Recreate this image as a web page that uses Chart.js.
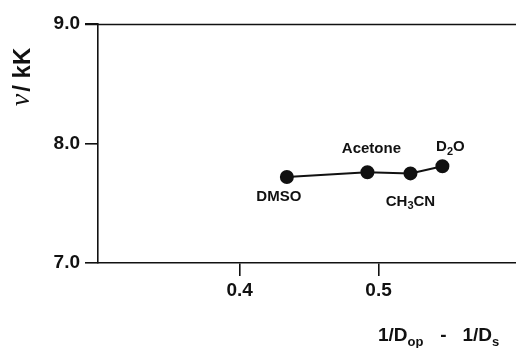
<!DOCTYPE html>
<html>
<head>
<meta charset="utf-8">
<script src="https://cdn.jsdelivr.net/npm/chart.js@4.4.1/dist/chart.umd.min.js"></script>
<style>
  html, body { margin: 0; padding: 0; background: #fff; }
  #wrap { width: 516px; height: 348px; }
</style>
</head>
<body>
<div id="wrap"><canvas id="chart" width="516" height="348"></canvas></div>
<script>
// ===== DATA =====
const solvents = ['DMSO', 'Acetone', 'CH3CN', 'D2O'];
const xValues = [0.434, 0.492, 0.523, 0.546];   // 1/Dop - 1/Ds
const yValues = [7.72, 7.76, 7.75, 7.81];       // nu / kK
const xTicks = [0.4, 0.5];
const yTicks = [7.0, 8.0, 9.0];

// label pieces (text + subscript flag) and where they sit around each point
const labelParts = [
  [['DMSO', 0]],
  [['Acetone', 0]],
  [['CH', 0], ['3', 1], ['CN', 0]],
  [['D', 0], ['2', 1], ['O', 0]]
];
const labelOffsets = [[-8, 20], [4, -23], [0, 28], [8, -19]];

const FONT = '"Liberation Sans", Arial, sans-serif';

// draw a run of text with subscripts, centred on x
function drawRich(ctx, parts, x, y, size) {
  const subSize = Math.round(size * 0.7);
  let total = 0;
  parts.forEach(p => {
    ctx.font = 'bold ' + (p[1] ? subSize : size) + 'px ' + FONT;
    total += ctx.measureText(p[0]).width;
  });
  let cx = x - total / 2;
  ctx.textAlign = 'left';
  ctx.textBaseline = 'middle';
  parts.forEach(p => {
    ctx.font = 'bold ' + (p[1] ? subSize : size) + 'px ' + FONT;
    ctx.fillText(p[0], cx, p[1] ? y + size * 0.32 : y);
    cx += ctx.measureText(p[0]).width;
  });
}

const extras = {
  id: 'extras',
  afterDraw(chart) {
    const ctx = chart.ctx;
    const xs = chart.scales.x, ys = chart.scales.y;
    ctx.save();
    ctx.fillStyle = '#111';
    ctx.strokeStyle = '#111';

    // top frame line (runs out to the tick side)
    ctx.lineWidth = 1.6;
    const yt = Math.round(ys.getPixelForValue(yTicks[yTicks.length - 1])) + 0.5;
    ctx.beginPath();
    ctx.moveTo(85, yt);
    ctx.lineTo(chart.width, yt);
    ctx.stroke();

    // point labels
    solvents.forEach((s, i) => {
      const px = xs.getPixelForValue(xValues[i]) + labelOffsets[i][0];
      const py = ys.getPixelForValue(yValues[i]) + labelOffsets[i][1];
      drawRich(ctx, labelParts[i], px, py, 15);
    });

    // x title: 1/Dop - 1/Ds
    ctx.textBaseline = 'middle';
    ctx.textAlign = 'left';
    let tx = 378;
    const ty = 336;
    const pieces = [['1/D', 0], ['op', 1], ['   -   ', 0], ['1/D', 0], ['s', 1]];
    pieces.forEach(p => {
      ctx.font = 'bold ' + (p[1] ? 13 : 19) + 'px ' + FONT;
      ctx.fillText(p[0], tx, p[1] ? ty + 6 : ty);
      tx += ctx.measureText(p[0]).width + (p[1] ? 1 : 0);
    });

    // y title: nu/ kK rotated
    ctx.translate(22, 77);
    ctx.rotate(-Math.PI / 2);
    const nuFont = 'italic 28px "Liberation Serif", "DejaVu Serif", serif';
    const restFont = 'bold 24px ' + FONT;
    ctx.font = nuFont;
    const wNu = ctx.measureText('\u03BD').width;
    ctx.font = restFont;
    const wRest = ctx.measureText('/ kK').width;
    let rx = -(wNu + wRest + 2) / 2;
    ctx.font = nuFont;
    ctx.fillText('\u03BD', rx, 0);
    rx += wNu + 2;
    ctx.font = restFont;
    ctx.fillText('/ kK', rx, 1);
    ctx.restore();
  }
};

new Chart(document.getElementById('chart'), {
  type: 'scatter',
  data: {
    datasets: [{
      data: xValues.map((x, i) => ({ x: x, y: yValues[i] })),
      showLine: true,
      borderColor: '#111',
      borderWidth: 2,
      backgroundColor: '#111',
      pointRadius: 6,
      pointHoverRadius: 6
    }]
  },
  options: {
    responsive: false,
    animation: false,
    layout: { autoPadding: false, padding: { top: 24, right: 0, left: 0, bottom: 0 } },
    plugins: { legend: { display: false }, tooltip: { enabled: false } },
    scales: {
      x: {
        type: 'linear', min: 0.298, max: 0.599,
        afterBuildTicks: s => { s.ticks = xTicks.map(v => ({ value: v })); },
        afterFit: s => { s.height = 85; s.paddingLeft = 0; s.paddingRight = 0; },
        border: { color: '#111', width: 1.6 },
        grid: { drawOnChartArea: false, drawTicks: true, tickLength: 13, color: '#111', lineWidth: 1.6 },
        ticks: { color: '#111', font: { family: FONT, size: 19, weight: 'bold' }, padding: 3, maxRotation: 0,
                 callback: v => v.toFixed(1) }
      },
      y: {
        type: 'linear', min: 7, max: 9,
        afterBuildTicks: s => { s.ticks = yTicks.map(v => ({ value: v })); },
        afterFit: s => { s.width = 98; s.paddingTop = 0; s.paddingBottom = 0; },
        border: { color: '#111', width: 1.6 },
        grid: { drawOnChartArea: false, drawTicks: true, tickLength: 13, color: '#111', lineWidth: 1.6 },
        ticks: { color: '#111', font: { family: FONT, size: 19, weight: 'bold' }, padding: 5,
                 callback: v => v.toFixed(1) }
      }
    }
  },
  plugins: [extras]
});
</script>
</body>
</html>
